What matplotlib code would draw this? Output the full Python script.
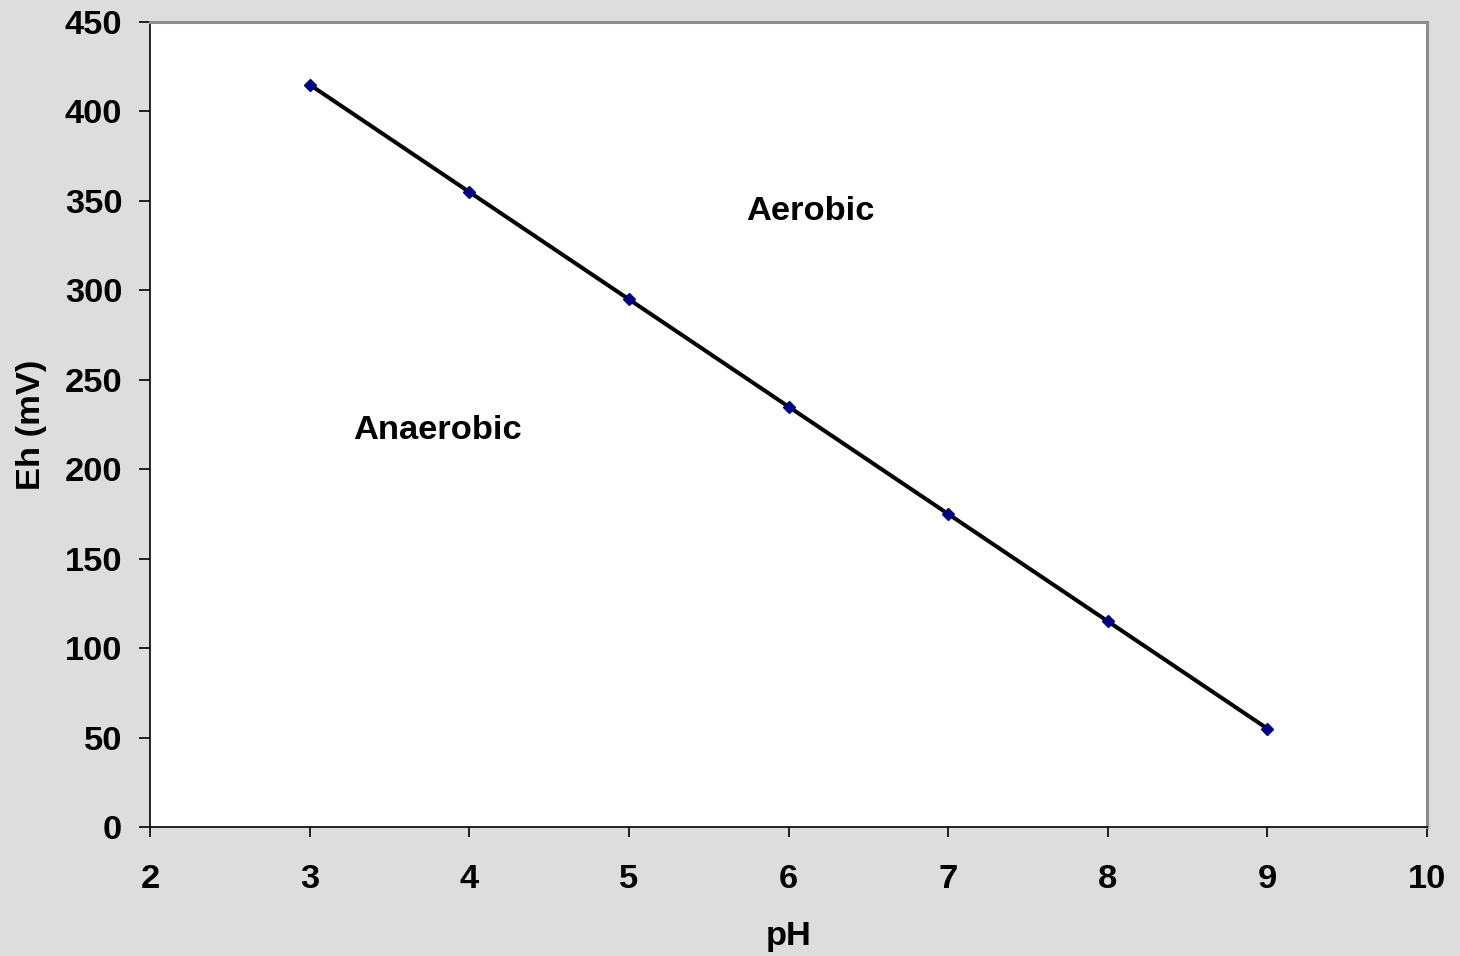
import matplotlib
matplotlib.use("Agg")
import matplotlib.pyplot as plt

ph = [3, 4, 5, 6, 7, 8, 9]
eh = [415, 355, 295, 235, 175, 115, 55]
xticks = [2, 3, 4, 5, 6, 7, 8, 9, 10]
yticks = [0, 50, 100, 150, 200, 250, 300, 350, 400, 450]

plt.rcParams['font.family'] = ['Liberation Sans', 'DejaVu Sans']
plt.rcParams['font.weight'] = 'bold'

FS = 24.8

fig = plt.figure(figsize=(14.6, 9.56), dpi=100, facecolor='#DDDDDD')
ax = fig.add_axes([150/1460, 1-827/956, (1427-150)/1460, (827-22)/956])
ax.set_facecolor('white')

ax.plot(ph, eh, color='black', lw=2.9, zorder=2)
ax.plot(ph, eh, linestyle='none', marker='D', markersize=6.5,
        markerfacecolor='#000080', markeredgecolor='#000080', zorder=3)

ax.set_xlim(2, 10)
ax.set_ylim(0, 450)
ax.set_xticks(xticks)
ax.set_yticks(yticks)
ax.set_xticklabels([str(t) for t in xticks], fontsize=FS, fontweight='bold')
ax.set_yticklabels([str(t) for t in yticks], fontsize=FS, fontweight='bold')
ax.tick_params(axis='x', direction='out', length=7.5, width=1.2, pad=19, color='black')
ax.tick_params(axis='y', direction='out', length=8, width=1.2, pad=12, color='black')

for side in ['left', 'bottom']:
    ax.spines[side].set_color('black')
    ax.spines[side].set_linewidth(1.2)
for side in ['top', 'right']:
    ax.spines[side].set_color('#8C8C8C')
    ax.spines[side].set_linewidth(2.2)

ax.set_xlabel('pH', fontsize=FS, fontweight='bold', labelpad=19)
ax.set_ylabel('Eh (mV)', fontsize=FS, fontweight='bold', labelpad=13)

ax.text(6.135, 344, 'Aerobic', fontsize=FS, fontweight='bold', ha='center', va='center')
ax.text(3.80, 221.5, 'Anaerobic', fontsize=FS, fontweight='bold', ha='center', va='center')

fig.savefig('out.png', dpi=100, facecolor=fig.get_facecolor())
